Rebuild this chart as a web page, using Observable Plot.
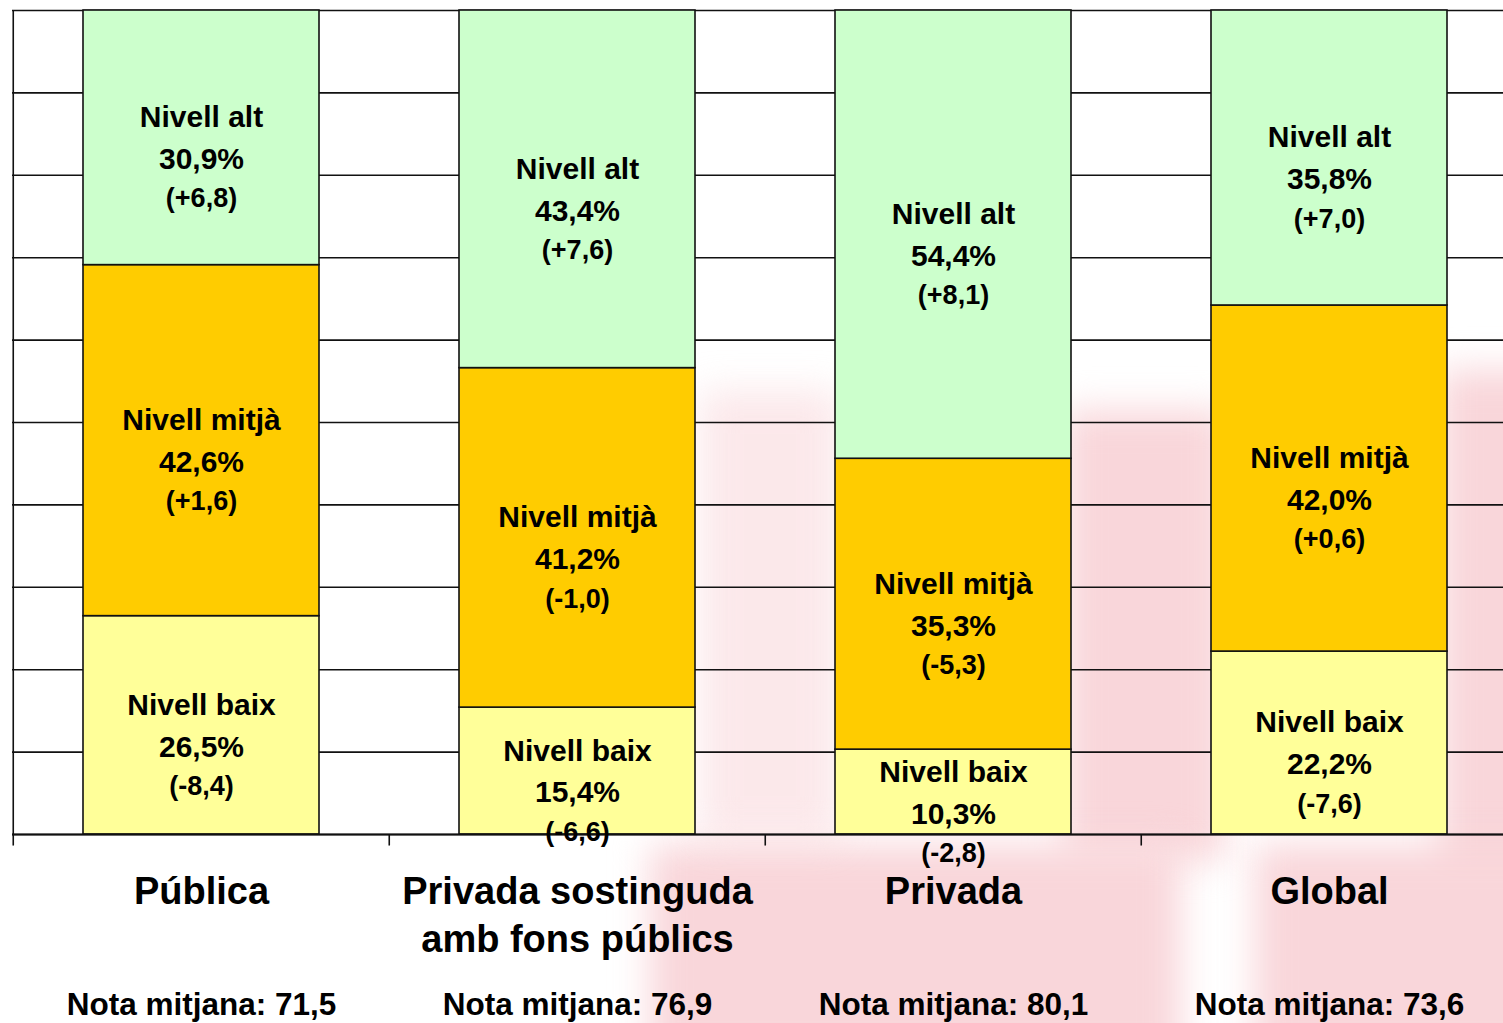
<!DOCTYPE html>
<html>
<head>
<meta charset="utf-8">
<script src="https://cdn.jsdelivr.net/npm/d3@7"></script>
<script src="https://cdn.jsdelivr.net/npm/@observablehq/plot@0.6"></script>
<style>
  html, body { margin: 0; padding: 0; background: #fff; overflow: hidden; width: 1503px; height: 1023px; }
  #bg { position: absolute; left: 0; top: 0; width: 1503px; height: 1023px; overflow: hidden; z-index: 0; }
  #bg div { position: absolute; background: #f9d6da; filter: blur(18px); }
  #chart { position: absolute; left: 0; top: 0; z-index: 1; width: 1520px; }
  #chart svg { max-width: none !important; }
</style>
</head>
<body>
<div id="bg">
  <div style="left:1065px; top:410px; width:160px; height:450px;"></div>
  <div style="left:1440px; top:370px; width:120px; height:700px;"></div>
  <div style="left:650px; top:845px; width:530px; height:220px;"></div>
  <div style="left:1255px; top:845px; width:300px; height:220px;"></div>
  <div style="left:700px; top:390px; width:140px; height:450px; opacity:0.55;"></div>
</div>
<div id="chart"></div>
<script>
// ---- data ----
const categories = ["Pública", "Privada sostinguda amb fons públics", "Privada", "Global"];
const categoryLabels = ["Pública", "Privada sostinguda\namb fons públics", "Privada", "Global"];
const levels = ["Nivell baix", "Nivell mitjà", "Nivell alt"];
const baixValues  = [26.5, 15.4, 10.3, 22.2];
const baixChange  = [-8.4, -6.6, -2.8, -7.6];
const mitjaValues = [42.6, 41.2, 35.3, 42.0];
const mitjaChange = [1.6, -1.0, -5.3, 0.6];
const altValues   = [30.9, 43.4, 54.4, 35.8];
const altChange   = [6.8, 7.6, 8.1, 7.0];
const notaMitjana = [71.5, 76.9, 80.1, 73.6];
const yTicks = [0, 10, 20, 30, 40, 50, 60, 70, 80, 90, 100];
const levelColors = ["#FFFF99", "#FFCC00", "#CCFFCC"];

// ---- table ----
const seriesValues = [baixValues, mitjaValues, altValues];
const seriesChanges = [baixChange, mitjaChange, altChange];
const rows = [];
categories.forEach((c, i) => {
  levels.forEach((l, j) => {
    rows.push({category: c, level: l, value: seriesValues[j][i], change: seriesChanges[j][i]});
  });
});
const fmt = v => v.toFixed(1).replace(".", ",");
const fmtChange = v => "(" + (v >= 0 ? "+" : "-") + fmt(Math.abs(v)) + ")";

const W = 1520, H = 1023, mL = 12, mR = 2, mT = 10, mB = 189;
const step = (W - mL - mR) / categories.length;
const half = step / 2;
const font = "'Liberation Sans', Arial, sans-serif";

const chart = Plot.plot({
  width: W, height: H,
  marginLeft: mL, marginRight: mR, marginTop: mT, marginBottom: mB,
  x: {domain: categories, paddingInner: 0.373, paddingOuter: 0.1865, axis: null},
  y: {domain: [0, 100], axis: null},
  color: {domain: levels, range: levelColors},
  style: {fontFamily: font, background: "transparent", overflow: "visible", color: "#000", maxWidth: "none"},
  marks: [
    Plot.ruleY(yTicks, {stroke: "#111", strokeWidth: 1.6}),
    Plot.ruleX([categories[0]], {y1: 0, y2: 100, dx: -half, stroke: "#111", strokeWidth: 1.6}),
    Plot.ruleX(categories, {y1: 0, y2: -1.4, dx: -half, stroke: "#111", strokeWidth: 1.6}),
    Plot.ruleX([categories[categories.length - 1]], {y1: 0, y2: -1.4, dx: half, stroke: "#111", strokeWidth: 1.6}),
    Plot.barY(rows, Plot.stackY({x: "category", y: "value", fill: "level", stroke: "#111", strokeWidth: 1.6})),
    Plot.ruleY([0], {stroke: "#111", strokeWidth: 2}),
    Plot.text(rows, Plot.stackY({
      x: "category", y: "value", z: "level",
      text: d => d.level + "\n" + fmt(d.value) + "%",
      fontSize: 30, fontWeight: "bold", lineHeight: 1.4, fill: "#000", dy: -3
    })),
    Plot.text(rows, Plot.stackY({
      x: "category", y: "value", z: "level",
      text: d => fmtChange(d.change),
      fontSize: 27, fontWeight: "bold", fill: "#000", dy: 61
    })),
    Plot.text(categories, {
      x: d => d, text: (d, i) => categoryLabels[i],
      frameAnchor: "bottom", lineAnchor: "top", dy: 35,
      fontSize: 38, fontWeight: "bold", lineHeight: 1.27, fill: "#000"
    }),
    Plot.text(categories, {
      x: d => d, text: (d, i) => "Nota mitjana: " + fmt(notaMitjana[i]),
      frameAnchor: "bottom", lineAnchor: "middle", dy: 170,
      fontSize: 31.5, fontWeight: "bold", fill: "#000"
    })
  ]
});
document.getElementById("chart").appendChild(chart);
</script>
</body>
</html>
